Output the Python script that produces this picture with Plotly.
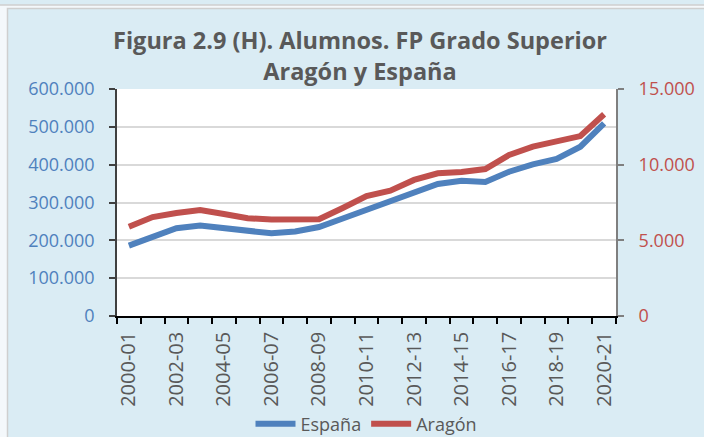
import plotly.graph_objects as go

categories = ["2000-01", "2001-02", "2002-03", "2003-04", "2004-05", "2005-06", "2006-07",
              "2007-08", "2008-09", "2009-10", "2010-11", "2011-12", "2012-13", "2013-14",
              "2014-15", "2015-16", "2016-17", "2017-18", "2018-19", "2019-20", "2020-21"]
espana = [186100, 209000, 231800, 239000, 231000, 222800, 218600, 223300, 235200, 257700,
          281500, 302100, 329000, 348900, 357600, 354200, 381400, 401000, 415000, 447500, 509300]
aragon = [5900, 6540, 6810, 7000, 6740, 6460, 6380, 6400, 6390, 7140,
          7930, 8280, 8990, 9430, 9520, 9710, 10640, 11190, 11580, 11890, 13330]
left_ticks = [0, 100000, 200000, 300000, 400000, 500000, 600000]
right_ticks = [0, 5000, 10000, 15000]
x_tick_text = [c if i % 2 == 0 else "" for i, c in enumerate(categories)]

W, H = 704, 437
L, R, T, B = 117, 88, 89, 121
PW, PH = W - L - R, H - T - B


def px(x):
    return (x - L) / PW


def py(y):
    return (H - B - y) / PH


BG = "#DAECF4"
FONT = "Open Sans"

fig = go.Figure()
fig.add_trace(go.Scatter(x=categories, y=espana, name="España", mode="lines",
                         line=dict(color="#4F81BD", width=6)))
fig.add_trace(go.Scatter(x=categories, y=aragon, name="Aragón", mode="lines", yaxis="y2",
                         line=dict(color="#C0504D", width=6)))

fig.update_layout(
    width=W, height=H,
    margin=dict(l=L, r=R, t=T, b=B, pad=0, autoexpand=False),
    paper_bgcolor=BG, plot_bgcolor="white",
    separators=",.",
    font=dict(family=FONT, color="#595959"),
    title=dict(text="<b>Figura 2.9 (H). Alumnos. FP Grado Superior<br>Aragón y España</b>",
               x=360 / W, xanchor="center", xref="container",
               y=1 - 49 / H, yanchor="middle", yref="container",
               font=dict(family=FONT, size=23.5, color="#595959")),
    xaxis=dict(type="category", range=[-0.5, len(categories) - 0.5],
               tickmode="array", tickvals=categories, ticktext=x_tick_text,
               tickson="boundaries", ticks="outside", ticklen=6, tickcolor="#000000",
               tickwidth=1.5, showline=True, linecolor="#000000", linewidth=1.5,
               tickangle=-90, tickfont=dict(size=20, color="#595959", family=FONT),
               showgrid=False, ticklabelstandoff=6, automargin=False),
    yaxis=dict(range=[0, 600000], tickmode="array", tickvals=left_ticks, tickformat=",",
               showgrid=True, gridcolor="#D9D9D9", gridwidth=1.5, zeroline=False,
               ticks="outside", ticklen=6, tickcolor="#404040", tickwidth=1.5,
               showline=True, linecolor="#404040", linewidth=1.5, automargin=False,
               tickfont=dict(size=18, color="#4F81BD", family=FONT), ticklabelstandoff=11),
    yaxis2=dict(range=[0, 15000], tickmode="array", tickvals=right_ticks, tickformat=",",
                overlaying="y", side="right", showgrid=False, zeroline=False,
                ticks="outside", ticklen=6, tickcolor="#7F7F7F", tickwidth=2,
                showline=True, linecolor="#7F7F7F", linewidth=2, automargin=False,
                tickfont=dict(size=18, color="#C0504D", family=FONT), ticklabelstandoff=11),
    legend=dict(orientation="h", x=0.5, xanchor="center", y=py(424), yanchor="middle",
                font=dict(size=18, color="#595959", family=FONT), bgcolor="rgba(0,0,0,0)",
                itemwidth=40),
    showlegend=True,
)

shapes = [
    dict(type="rect", xref="paper", yref="paper", x0=px(-2), x1=px(W + 2), y0=py(5), y1=py(8),
         fillcolor="#F4F8FB", line=dict(width=0), layer="above"),
    dict(type="rect", xref="paper", yref="paper", x0=px(-2), x1=px(7), y0=py(8), y1=py(H + 2),
         fillcolor="#F4F8FB", line=dict(width=0), layer="above"),
    dict(type="line", xref="paper", yref="paper", x0=px(-2), x1=px(W + 2), y0=py(5), y1=py(5),
         line=dict(color="#CFCFCF", width=1.5), layer="above"),
    dict(type="rect", xref="paper", yref="paper", x0=px(7.5), x1=px(W + 10), y0=py(8.5), y1=py(H + 10),
         line=dict(color="#CFCFCF", width=1.5), fillcolor="rgba(0,0,0,0)", layer="above"),
]
fig.update_layout(shapes=shapes)

fig.write_html("out.html", config={"displayModeBar": False},
               post_script="document.body.style.margin='0';document.body.style.overflow='hidden';")
